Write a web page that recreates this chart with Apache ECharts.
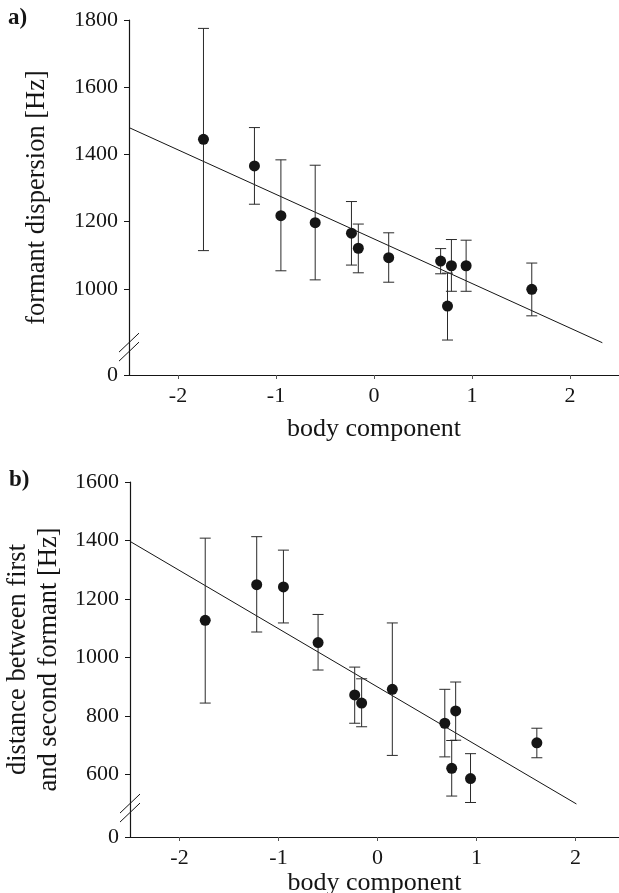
<!DOCTYPE html>
<html>
<head>
<meta charset="utf-8">
<script src="https://cdn.jsdelivr.net/npm/echarts@6/dist/echarts.min.js"></script>
<style>
  html, body { margin: 0; padding: 0; background: #fff; }
  #chart { width: 619px; height: 893px; }
</style>
</head>
<body>
<div id="chart"></div>
<script>
// body component score of each animal (same in both panels)
var bodyScore = [-1.74, -1.22, -0.95, -0.60, -0.23, -0.16, 0.15, 0.68, 0.75, 0.79, 0.94, 1.61];

// a) formant dispersion [Hz]
var dispMean = [1445, 1366, 1218, 1197, 1166, 1121, 1093, 1083, 949, 1069, 1069, 999];
var dispLow  = [1114, 1252, 1054, 1027, 1071, 1048, 1020, 1045, 848, 993, 993, 920];
var dispHigh = [1775, 1480, 1384, 1368, 1260, 1193, 1167, 1120, 1047, 1147, 1145, 1077];
var dispFitX = [-2.5, 2.33];
var dispFitY = [1480, 840];

// b) distance between first and second formant [Hz]
var f21Mean = [1127, 1249, 1241, 1051, 872, 844, 891, 775, 621, 817, 586, 708];
var f21Low  = [844, 1087, 1118, 957, 775, 763, 665, 660, 526, 717, 504, 657];
var f21High = [1408, 1413, 1367, 1147, 967, 927, 1118, 891, 716, 916, 671, 758];
var f21FitX = [-2.5, 2.01];
var f21FitY = [1397, 499];

// ticks
var xTicks = [-2, -1, 0, 1, 2];
var yTicksA = [1000, 1200, 1400, 1600, 1800];
var yTicksB = [600, 800, 1000, 1200, 1400, 1600];
// bottom of the broken y axes (drawn as "0")
var floorA = 744;
var floorB = 386;

var FONT = "'Liberation Serif', 'Times New Roman', serif";
var INK = '#151515';

function zip(a, b) {
    var out = [];
    for (var i = 0; i < a.length; i++) out.push([a[i], b[i]]);
    return out;
}
function zip3(a, b, c) {
    var out = [];
    for (var i = 0; i < a.length; i++) out.push([a[i], b[i], c[i]]);
    return out;
}

function errRender(params, api) {
    var x = api.value(0);
    var top = api.coord([x, api.value(2)]);
    var bot = api.coord([x, api.value(1)]);
    var w = 5.5;
    var st = { stroke: '#2a2a2a', lineWidth: 1 };
    return {
        type: 'group',
        children: [
            { type: 'line', shape: { x1: top[0], y1: top[1], x2: bot[0], y2: bot[1] }, style: st },
            { type: 'line', shape: { x1: top[0] - w, y1: top[1], x2: top[0] + w, y2: top[1] }, style: st },
            { type: 'line', shape: { x1: bot[0] - w, y1: bot[1], x2: bot[0] + w, y2: bot[1] }, style: st }
        ]
    };
}

function xAxisFor(idx, max, gap) {
    return {
        type: 'value', gridIndex: idx, min: -2.5, max: max,
        name: 'body component', nameLocation: 'middle', nameGap: gap,
        nameTextStyle: { fontFamily: FONT, fontSize: 26, color: INK },
        splitLine: { show: false },
        axisLine: { onZero: false, lineStyle: { color: INK, width: 1.2 } },
        axisTick: { customValues: xTicks, length: 4, lineStyle: { color: '#555' } },
        axisLabel: { customValues: xTicks, margin: 10, fontFamily: FONT, fontSize: 22, color: INK }
    };
}

function yAxisFor(idx, floor, max, ticks, name, gap) {
    return {
        type: 'value', gridIndex: idx, min: floor, max: max,
        name: name, nameLocation: 'middle', nameGap: gap, nameRotate: 90,
        nameTextStyle: { fontFamily: FONT, fontSize: 26.5, color: INK, lineHeight: 31 },
        splitLine: { show: false },
        axisLine: { onZero: false, lineStyle: { color: INK, width: 1.2 } },
        axisTick: { customValues: [floor].concat(ticks), length: 5, lineStyle: { color: INK } },
        axisLabel: {
            customValues: [floor].concat(ticks), margin: 11,
            fontFamily: FONT, fontSize: 22, color: INK,
            formatter: function (v) { return v === floor ? '0' : String(v); }
        }
    };
}

var chart = echarts.init(document.getElementById('chart'), null, { renderer: 'canvas' });

var option = {
    animation: false,
    backgroundColor: '#fff',
    grid: [
        { left: 129, right: 0, top: 20, bottom: 518, outerBoundsMode: 'none', containLabel: false },
        { left: 130, right: 0, top: 482, bottom: 56, outerBoundsMode: 'none', containLabel: false }
    ],
    xAxis: [xAxisFor(0, 2.5, 41), xAxisFor(1, 2.44, 32)],
    yAxis: [
        yAxisFor(0, floorA, 1800, yTicksA, 'formant dispersion [Hz]', 76),
        yAxisFor(1, floorB, 1600, yTicksB, 'distance between first\nand second formant [Hz]', 64)
    ],
    series: [
        {
            type: 'line', xAxisIndex: 0, yAxisIndex: 0, data: zip(dispFitX, dispFitY),
            showSymbol: false, lineStyle: { color: INK, width: 1 }, z: 1
        },
        {
            type: 'custom', xAxisIndex: 0, yAxisIndex: 0, data: zip3(bodyScore, dispLow, dispHigh),
            renderItem: errRender, z: 2
        },
        {
            type: 'scatter', xAxisIndex: 0, yAxisIndex: 0, data: zip(bodyScore, dispMean),
            symbolSize: 11, itemStyle: { color: INK, opacity: 1 }, z: 3
        },
        {
            type: 'line', xAxisIndex: 1, yAxisIndex: 1, data: zip(f21FitX, f21FitY),
            showSymbol: false, lineStyle: { color: INK, width: 1 }, z: 1
        },
        {
            type: 'custom', xAxisIndex: 1, yAxisIndex: 1, data: zip3(bodyScore, f21Low, f21High),
            renderItem: errRender, z: 2
        },
        {
            type: 'scatter', xAxisIndex: 1, yAxisIndex: 1, data: zip(bodyScore, f21Mean),
            symbolSize: 11, itemStyle: { color: INK, opacity: 1 }, z: 3
        }
    ]
};
chart.setOption(option);

// panel letters and axis-break slashes
function breakMarks(gridIndex, xv, yv) {
    var p = chart.convertToPixel({ gridIndex: gridIndex }, [xv, yv]);
    var st = { stroke: INK, lineWidth: 1 };
    return [
        { type: 'line', shape: { x1: p[0] - 10, y1: p[1] + 5, x2: p[0] + 10, y2: p[1] - 14 }, style: st, z: 10 },
        { type: 'line', shape: { x1: p[0] - 10, y1: p[1] + 14, x2: p[0] + 10, y2: p[1] - 5 }, style: st, z: 10 }
    ];
}
var pa = chart.convertToPixel({ gridIndex: 0 }, [-2.5, 1800]);
var pb = chart.convertToPixel({ gridIndex: 1 }, [-2.5, 1600]);
chart.setOption({
    graphic: [
        { type: 'text', left: 8, top: pa[1] - 13, style: { text: 'a)', font: 'bold 23px ' + FONT, fill: INK } },
        { type: 'text', left: 9, top: pb[1] - 13, style: { text: 'b)', font: 'bold 23px ' + FONT, fill: INK } }
    ].concat(breakMarks(0, -2.5, 827)).concat(breakMarks(1, -2.5, 485))
});
</script>
</body>
</html>
